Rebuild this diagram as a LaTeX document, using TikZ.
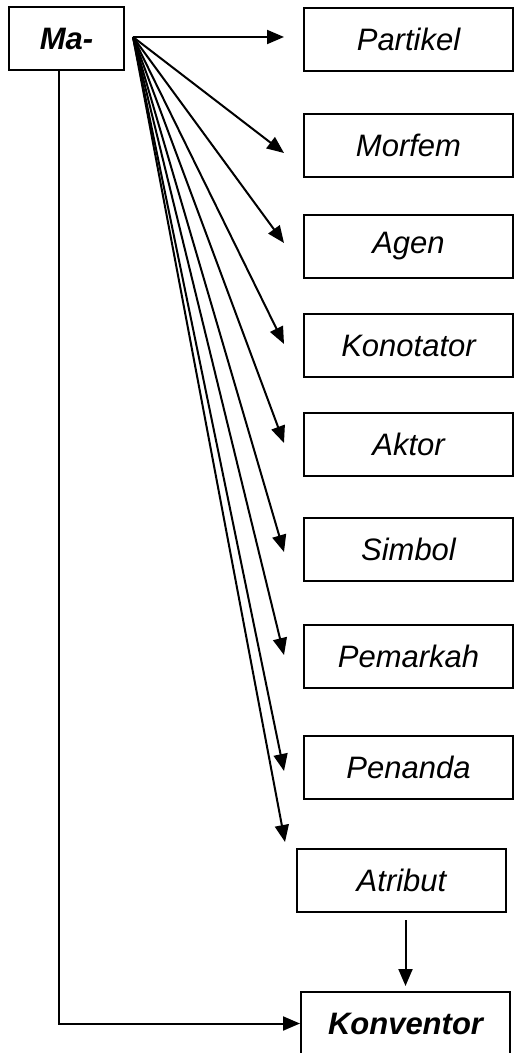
\documentclass[tikz,border=0pt]{standalone}
\usepackage{fontspec}
\setmainfont{Liberation Sans}
\usetikzlibrary{arrows.meta,positioning}

\begin{document}
\begin{tikzpicture}[x=0.5pt,y=-0.5pt,
      font=\fontsize{15.5}{18}\selectfont\itshape,
      term/.style={draw,line width=1pt,minimum width=104.5pt,minimum height=31.5pt,inner sep=0pt},
      head/.style={term,font=\fontsize{15.5}{18}\selectfont\bfseries\itshape},
      ar/.style={-{Triangle[length=8.5pt,width=7pt]},line width=1pt}]
      \useasboundingbox (0,0) rectangle (514,1053);
      \node[head,minimum width=57.5pt] (ma) at (66.5,39) {Ma-};
      \node[term] (partikel) at (408.5,39.5) {Partikel};
      \node[term,below=20.5pt of partikel] (morfem) {Morfem};
      \node[term,below=18pt of morfem] (agen) {Agen};
      \node[term,below=17pt of agen] (konotator) {Konotator};
      \node[term,below=17pt of konotator] (aktor) {Aktor};
      \node[term,below=20pt of aktor] (simbol) {Simbol};
      \node[term,below=21pt of simbol] (pemarkah) {Pemarkah};
      \node[term,below=22.75pt of pemarkah] (penanda) {Penanda};
      \node[term,below=24.25pt of penanda,xshift=-3.5pt] (atribut) {Atribut};
      \node[head,below=39pt of atribut,xshift=2pt] (konventor) {Konventor};
      \coordinate (fan) at (133,37);
      \draw[ar] (fan) -- ([xshift=-9.5pt]partikel.west |- fan);
      \draw[ar] (fan) -- ([xshift=-9.5pt,yshift=-3.75pt]morfem.west);
      \draw[ar] (fan) -- ([xshift=-9.5pt,yshift=1.75pt]agen.west);
      \draw[ar] (fan) -- ([xshift=-9.5pt,yshift=0.75pt]konotator.west);
      \draw[ar] (fan) -- ([xshift=-9.5pt,yshift=0.75pt]aktor.west);
      \draw[ar] (fan) -- ([xshift=-9.5pt,yshift=-1.25pt]simbol.west);
      \draw[ar] (fan) -- ([xshift=-9.5pt,yshift=0.75pt]pemarkah.west);
      \draw[ar] (fan) -- ([xshift=-9.5pt,yshift=-2pt]penanda.west);
      \draw[ar] (fan) -- ([xshift=-5.5pt,yshift=3pt]atribut.north west);
      \draw[ar,shorten <=3.5pt,shorten >=2.5pt] (atribut.south -| konventor.north) -- (konventor.north);
      \draw[ar] ([xshift=-3.75pt]ma.south) |- (konventor.west);
    \end{tikzpicture}
\end{document}
